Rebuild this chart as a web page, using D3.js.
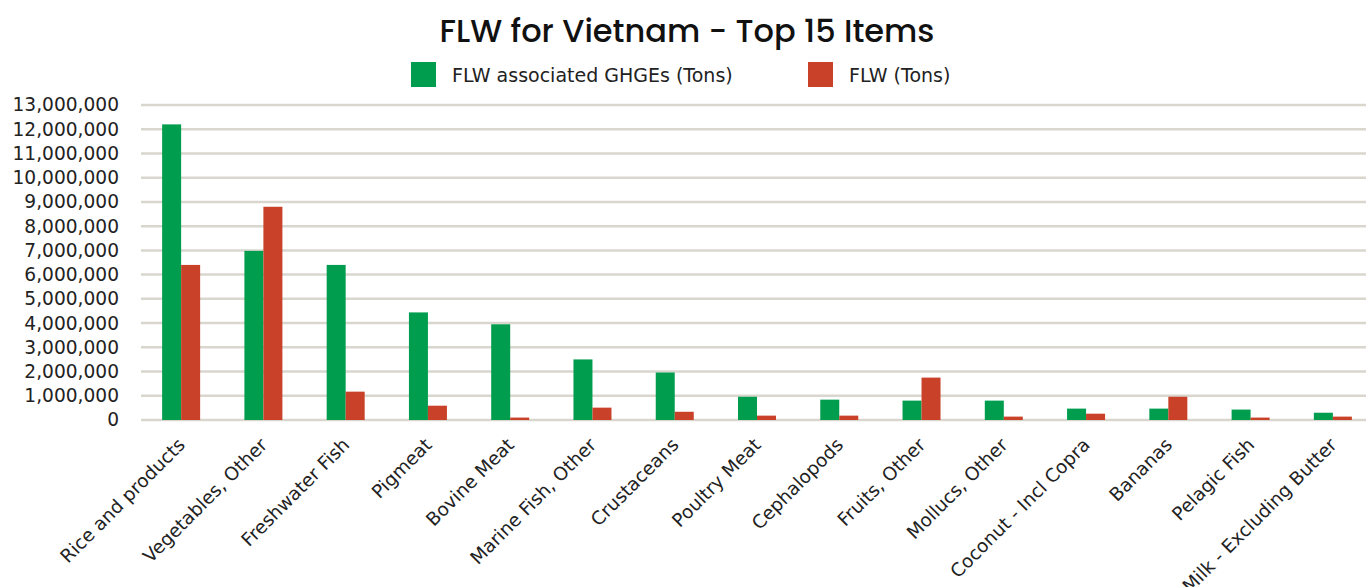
<!DOCTYPE html>
<html>
<head>
<meta charset="utf-8">
<script src="https://cdn.jsdelivr.net/npm/d3@7"></script>
<style>
  html, body { margin: 0; padding: 0; background: #fff; }
  svg { display: block; }
</style>
</head>
<body>
<svg id="chart" width="1366" height="587"></svg>
<script>
// Food loss and waste for Vietnam, top 15 items
const categories = [
  "Rice and products", "Vegetables, Other", "Freshwater Fish", "Pigmeat",
  "Bovine Meat", "Marine Fish, Other", "Crustaceans", "Poultry Meat",
  "Cephalopods", "Fruits, Other", "Mollucs, Other", "Coconut - Incl Copra",
  "Bananas", "Pelagic Fish", "Milk - Excluding Butter"
];
const ghgeTons = [
  12200000, 6980000, 6400000, 4440000, 3950000, 2500000, 1960000, 960000,
  840000, 800000, 800000, 470000, 470000, 430000, 300000
];
const flwTons = [
  6400000, 8800000, 1170000, 590000, 100000, 510000, 340000, 180000,
  180000, 1750000, 140000, 260000, 960000, 100000, 140000
];
const seriesNames = ["FLW associated GHGEs (Tons)", "FLW (Tons)"];
const seriesColors = ["#009d4e", "#c84128"];
const yTicks = d3.range(0, 13000001, 1000000);

const bodyFont = "'DejaVu Sans', Verdana, sans-serif";
const svg = d3.select("#chart");
const plot = { left: 140, right: 1374, top: 105, bottom: 420 };

const x = d3.scaleBand().domain(categories).range([plot.left, plot.right]);
const barW = 19;
const y = d3.scaleLinear().domain([0, 13000000]).range([plot.bottom, plot.top]);

// title
svg.append("text")
  .attr("x", 687).attr("y", 42)
  .attr("text-anchor", "middle")
  .style("font-family", "Poppins, Inter, sans-serif")
  .style("font-weight", 500)
  .style("font-size", "32px")
  .attr("fill", "#111")
  .text("FLW for Vietnam - Top 15 Items");

// legend
const legendX = [411, 808];
seriesNames.forEach((name, i) => {
  svg.append("rect")
    .attr("x", legendX[i]).attr("y", 62)
    .attr("width", 25).attr("height", 25)
    .attr("fill", seriesColors[i]);
  svg.append("text")
    .attr("x", legendX[i] + 41).attr("y", 82)
    .style("font-family", bodyFont)
    .style("font-size", "19px")
    .attr("fill", "#222")
    .text(name);
});

// gridlines
svg.append("g")
  .selectAll("line")
  .data(yTicks)
  .join("line")
  .attr("x1", plot.left + 1).attr("x2", 1366)
  .attr("y1", d => y(d)).attr("y2", d => y(d))
  .attr("stroke", "#d9d6ce")
  .attr("stroke-width", 2.5);

// y axis labels
const yAxis = d3.axisLeft(y)
  .tickValues(yTicks)
  .tickFormat(d3.format(","))
  .tickSize(0)
  .tickPadding(0);
const yg = svg.append("g")
  .attr("transform", `translate(${119},0)`)
  .call(yAxis);
yg.select(".domain").remove();
yg.selectAll("text")
  .style("font-family", bodyFont)
  .style("font-size", "18.6px")
  .attr("fill", "#222");

// bars
const groups = svg.append("g")
  .selectAll("g")
  .data(categories)
  .join("g")
  .attr("transform", d => `translate(${x(d) + x.bandwidth() / 2},0)`);

groups.append("rect")
  .attr("x", -barW)
  .attr("width", barW)
  .attr("y", (d, i) => y(ghgeTons[i]))
  .attr("height", (d, i) => y(0) - y(ghgeTons[i]))
  .attr("fill", seriesColors[0]);

groups.append("rect")
  .attr("x", 0)
  .attr("width", barW)
  .attr("y", (d, i) => y(flwTons[i]))
  .attr("height", (d, i) => y(0) - y(flwTons[i]))
  .attr("fill", seriesColors[1]);

// category labels
const xAxis = d3.axisBottom(x).tickSize(0).tickPadding(0);
const xg = svg.append("g")
  .attr("transform", `translate(0,${plot.bottom})`)
  .call(xAxis);
xg.select(".domain").remove();
xg.selectAll("text")
  .style("font-family", bodyFont)
  .style("font-size", "18.5px")
  .attr("fill", "#222")
  .attr("text-anchor", "end")
  .attr("dy", null)
  .attr("y", 0)
  .attr("transform", "translate(5,26) rotate(-45)");
</script>
</body>
</html>
